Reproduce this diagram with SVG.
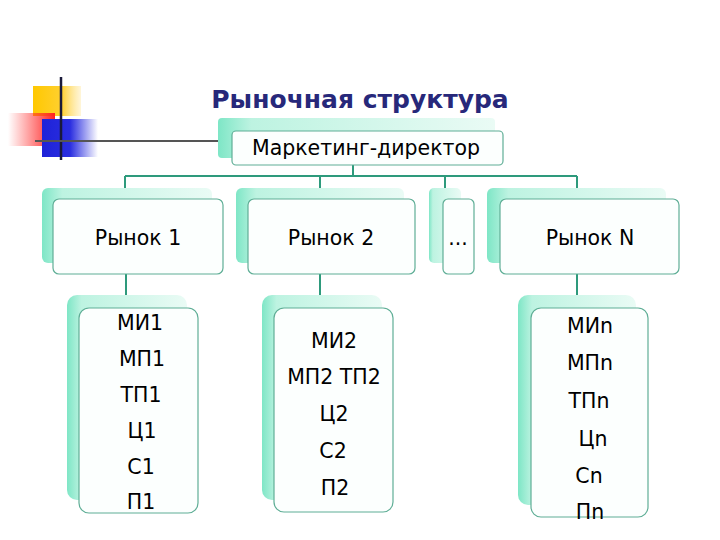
<svg xmlns="http://www.w3.org/2000/svg" width="720" height="540" viewBox="0 0 720 540">
<defs>
<linearGradient id="sh" x1="0" y1="0" x2="1" y2="0">
<stop offset="0" stop-color="#7EE6C6"/>
<stop offset="0.12" stop-color="#BDF3E1"/>
<stop offset="1" stop-color="#EAFBF5"/>
</linearGradient>
<linearGradient id="red" x1="0" y1="0" x2="1" y2="0">
<stop offset="0" stop-color="#FF3030" stop-opacity="0"/>
<stop offset="1" stop-color="#FF2020"/>
</linearGradient>
<linearGradient id="blue" x1="0" y1="0" x2="1" y2="0">
<stop offset="0" stop-color="#1E22D8"/>
<stop offset="0.5" stop-color="#2A2EE0"/>
<stop offset="1" stop-color="#2A2EE0" stop-opacity="0"/>
</linearGradient>
<linearGradient id="yel" x1="0" y1="0" x2="1" y2="0">
<stop offset="0" stop-color="#FFC800"/>
<stop offset="0.6" stop-color="#FFD030"/>
<stop offset="1" stop-color="#FFE080" stop-opacity="0.3"/>
</linearGradient>
</defs>
<style>
.shadow{fill:url(#sh);}
.box{fill:#FCFFFE;stroke:#5FAE96;stroke-width:1.2;}
.t{font-family:"DejaVu Sans",Verdana,sans-serif;font-size:20.5px;fill:#000;text-anchor:middle;}
.title{font-family:"DejaVu Sans",Verdana,sans-serif;font-weight:bold;font-size:25px;fill:#27287A;text-anchor:middle;}
.con{stroke:#2E9A7C;stroke-width:2;fill:none;}
</style>
<g id="decoration">
<rect x="33" y="86" width="48" height="30" fill="url(#yel)"/>
<rect x="8" y="113" width="47" height="33" fill="url(#red)"/>
<rect x="42" y="119" width="56" height="38" fill="url(#blue)"/>
<line x1="61" y1="77" x2="61" y2="160" stroke="#1A1A3A" stroke-width="2.5"/>
<line x1="35" y1="141" x2="218" y2="141" stroke="#555" stroke-width="2"/>
</g>
<text class="title" x="360" y="108">Рыночная структура</text>
<g id="connectors">
<path class="con" d="M353 165 V176 M125 176 H577 M125 176 V188 M320 176 V188 M445 176 V188 M577 176 V188"/>
<path class="con" d="M126 274 V296 M320 274 V296 M577 274 V296"/>
</g>
<g id="director">
<rect class="shadow" x="218" y="118" width="277" height="40" rx="4"/>
<rect class="box" x="232" y="131" width="271" height="34" rx="4"/>
<text class="t" x="366" y="155">Маркетинг-директор</text>
</g>
<g id="market1">
<rect class="shadow" x="42" y="188" width="170" height="75" rx="6"/>
<rect class="box" x="53" y="199" width="170" height="75" rx="6"/>
<text class="t" x="138" y="245">Рынок 1</text>
</g>
<g id="market2">
<rect class="shadow" x="236" y="188" width="168" height="75" rx="6"/>
<rect class="box" x="248" y="199" width="167" height="75" rx="6"/>
<text class="t" x="331" y="245">Рынок 2</text>
</g>
<g id="dots">
<rect class="shadow" x="429" y="188" width="32" height="75" rx="5"/>
<rect class="box" x="443" y="199" width="31" height="75" rx="5"/>
<text class="t" x="458" y="245">...</text>
</g>
<g id="marketN">
<rect class="shadow" x="487" y="188" width="179" height="75" rx="6"/>
<rect class="box" x="500" y="199" width="179" height="75" rx="6"/>
<text class="t" x="590" y="245">Рынок N</text>
</g>
<g id="list1">
<rect class="shadow" x="67" y="295" width="120" height="205" rx="10"/>
<rect class="box" x="79" y="308" width="119" height="205" rx="10"/>
<text class="t" x="140" y="330">МИ1</text>
<text class="t" x="142" y="366">МП1</text>
<text class="t" x="141" y="402">ТП1</text>
<text class="t" x="142" y="438">Ц1</text>
<text class="t" x="141" y="474">С1</text>
<text class="t" x="141" y="509">П1</text>
</g>
<g id="list2">
<rect class="shadow" x="262" y="295" width="120" height="205" rx="10"/>
<rect class="box" x="274" y="308" width="119" height="204" rx="10"/>
<text class="t" x="334" y="348">МИ2</text>
<text class="t" x="334" y="384">МП2 ТП2</text>
<text class="t" x="334" y="421">Ц2</text>
<text class="t" x="333" y="458">С2</text>
<text class="t" x="335" y="495">П2</text>
</g>
<g id="listN">
<rect class="shadow" x="518" y="295" width="118" height="210" rx="10"/>
<rect class="box" x="531" y="308" width="117" height="209" rx="10"/>
<text class="t" x="590" y="333">МИn</text>
<text class="t" x="590" y="370">МПn</text>
<text class="t" x="589" y="408">ТПn</text>
<text class="t" x="593" y="446">Цn</text>
<text class="t" x="589" y="483">Сn</text>
<text class="t" x="590" y="519">Пn</text>
</g>
</svg>
